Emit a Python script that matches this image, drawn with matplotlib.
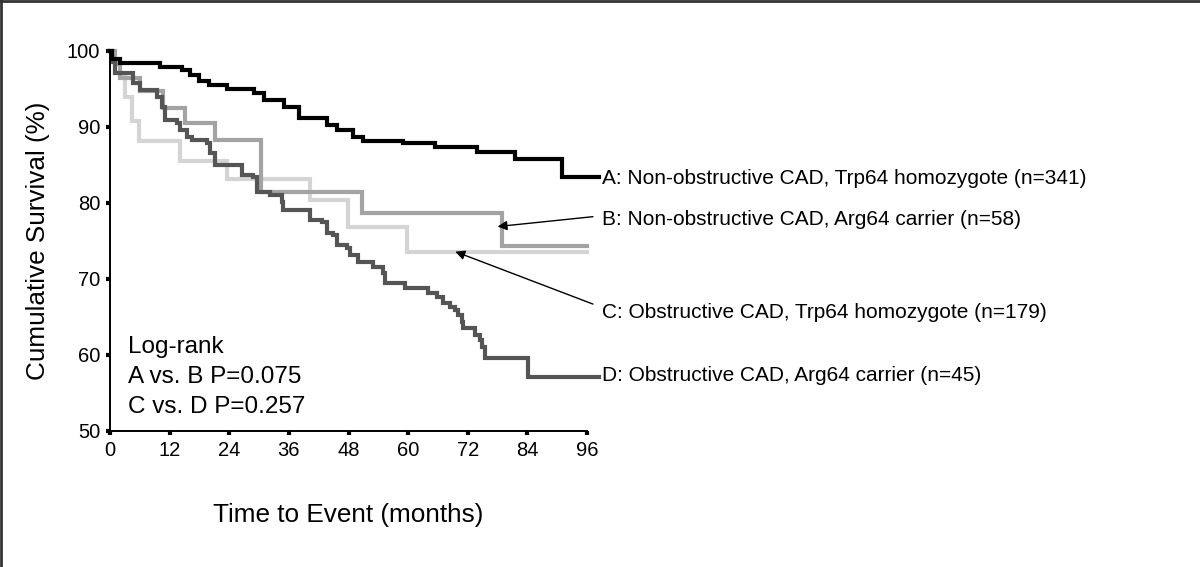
import matplotlib
matplotlib.use("Agg")
import matplotlib.pyplot as plt
from matplotlib.lines import Line2D

plt.rcParams['font.family'] = ['Liberation Sans', 'DejaVu Sans']

# Kaplan-Meier step data (time in months, cumulative survival %)
a_t = [0, 0.5, 2, 10, 14.5, 16, 18, 20, 23.5, 29, 31, 35, 38, 43.6, 45.7, 48.9, 50.9, 59, 65.4, 73.8, 81.5, 91, 98.5]
a_s = [100, 99.0, 98.4, 97.9, 97.5, 96.8, 96.0, 95.5, 95.0, 94.5, 93.5, 92.6, 91.2, 90.3, 89.6, 88.7, 88.2, 87.9, 87.4, 86.7, 85.8, 83.4, 83.4]

b_t = [0, 1, 2, 6, 10.7, 15.1, 21.1, 30.4, 50.7, 78.9, 96]
b_s = [100, 98.3, 96.5, 94.8, 92.5, 90.5, 88.3, 81.4, 78.7, 74.3, 74.3]

c_t = [0, 0.6, 2, 3, 4.5, 5.8, 14.1, 23.5, 40.2, 47.9, 59.8, 96]
c_s = [100, 98.5, 97.0, 94.0, 90.8, 88.2, 85.5, 83.2, 80.4, 76.8, 73.6, 73.6]

d_t = [0, 0.5, 1, 4.6, 6, 9.5, 10.5, 11, 13.5, 14.1, 15.5, 16.5, 19.5, 20.1, 21.1, 26.5, 28.8, 29.6, 32.2,
       34.6, 34.8, 40.2, 42.7, 43.7, 44.9, 45.7, 47.7, 48.3, 49.9, 52.9, 54.9, 55.3, 59.4, 64.0, 65.8, 67.0,
       68.4, 69.4, 70.0, 70.8, 71.0, 73.4, 74.4, 74.8, 75.5, 84.1, 98.5]
d_s = [100, 98.5, 97.1, 95.8, 94.9, 94.0, 92.6, 90.9, 90.5, 89.6, 88.7, 88.3, 87.9, 86.6, 85.0, 83.7, 83.4, 81.4, 81.1,
       80.1, 79.1, 77.8, 77.5, 76.1, 75.8, 74.5, 74.1, 73.2, 72.2, 71.6, 70.8, 69.5, 68.8, 68.2, 67.6, 66.8,
       66.3, 65.9, 65.3, 64.3, 63.6, 62.6, 62.0, 61.1, 59.6, 57.1, 57.1]

labels = ["A: Non-obstructive CAD, Trp64 homozygote (n=341)",
          "B: Non-obstructive CAD, Arg64 carrier (n=58)",
          "C: Obstructive CAD, Trp64 homozygote (n=179)",
          "D: Obstructive CAD, Arg64 carrier (n=45)"]
stats_text = ["Log-rank", "A vs. B P=0.075", "C vs. D P=0.257"]
x_ticks = [0, 12, 24, 36, 48, 60, 72, 84, 96]
y_ticks = [50, 60, 70, 80, 90, 100]

fig = plt.figure(figsize=(12, 5.67), dpi=100)
ax = fig.add_axes([110/1200, 1 - 431/567, 477/1200, 380/567])

lw = 3.0
ax.step(c_t, c_s, where='post', color='#d4d4d4', lw=lw, clip_on=False, solid_joinstyle='miter')
ax.step(b_t, b_s, where='post', color='#a3a3a3', lw=lw, clip_on=False, solid_joinstyle='miter')
ax.step(d_t, d_s, where='post', color='#555555', lw=lw, clip_on=False, solid_joinstyle='miter')
ax.step(a_t, a_s, where='post', color='#000000', lw=lw, clip_on=False, solid_joinstyle='miter')

ax.set_xlim(0, 96)
ax.set_ylim(50, 100)
ax.set_xticks(x_ticks)
ax.set_yticks(y_ticks)
for s in ['top', 'right']:
    ax.spines[s].set_visible(False)
for s in ['left', 'bottom']:
    ax.spines[s].set_linewidth(1.4)
ax.tick_params(direction='out', length=3, width=3, labelsize=14.5, pad=4)

ax.set_xlabel("Time to Event (months)", fontsize=18.8, labelpad=31)
ax.set_ylabel("Cumulative Survival (%)", fontsize=18.8, labelpad=12)

# end labels
lab_y = [83.2, 77.8, 65.6, 57.3]
for lbl, yv in zip(labels, lab_y):
    ax.text(99.0, yv, lbl, fontsize=15, va='center', ha='left', clip_on=False)

# arrows
ax.annotate("", xy=(78.0, 76.9), xytext=(97.2, 78.2), annotation_clip=False,
            arrowprops=dict(arrowstyle='-|>', color='black', lw=1.0, mutation_scale=14, shrinkA=0, shrinkB=0))
ax.annotate("", xy=(69.5, 73.6), xytext=(97.2, 66.7), annotation_clip=False,
            arrowprops=dict(arrowstyle='-|>', color='black', lw=1.0, mutation_scale=14, shrinkA=0, shrinkB=0))

# stats text
for i, t in enumerate(stats_text):
    ax.text(3.7, 61.0 - i * 3.9, t, fontsize=17.5, va='center', ha='left')

# figure border (top and left)
fig.add_artist(Line2D([0.001, 0.001], [0, 1], transform=fig.transFigure, color='#333333', lw=2))
fig.add_artist(Line2D([0, 1], [0.999, 0.999], transform=fig.transFigure, color='#333333', lw=2))

fig.savefig("out.png", dpi=100, facecolor='white')
